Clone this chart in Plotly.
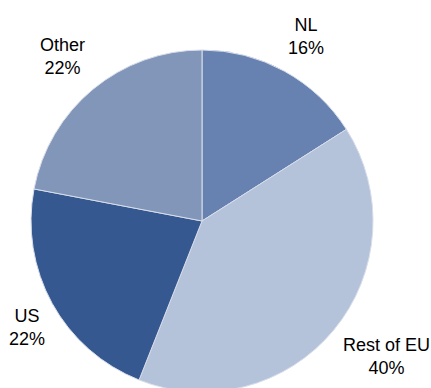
import plotly.graph_objects as go

# Share of total by region (percent)
regions = ["NL", "Rest of EU", "US", "Other"]
shares = [16, 40, 22, 22]
colors = ["#6782B1", "#B4C2DA", "#34588F", "#8196B9"]

# Label anchor points (paper pixels) for each region's callout
label_px = {
    "NL": (306, 36),
    "Rest of EU": (386, 356),
    "US": (27, 327),
    "Other": (62, 56),
}

W, H = 431, 396
cx, cy, r = 202, 221, 171

fig = go.Figure(
    go.Pie(
        labels=regions,
        values=shares,
        sort=False,
        direction="clockwise",
        rotation=0,
        textinfo="none",
        hoverinfo="label+percent",
        marker=dict(colors=colors, line=dict(color="#D8DEEA", width=1)),
        domain=dict(
            x=[(cx - r) / W, (cx + r) / W],
            y=[1 - (cy + r) / H, 1 - (cy - r) / H],
        ),
        showlegend=False,
    )
)

for name, val in zip(regions, shares):
    px, py = label_px[name]
    fig.add_annotation(
        x=px / W,
        y=1 - py / H,
        xref="paper",
        yref="paper",
        text=f"{name}<br>{val}%",
        showarrow=False,
        xanchor="center",
        yanchor="middle",
        align="center",
        font=dict(family="Liberation Sans, Arial, sans-serif", size=18, color="#000000"),
    )

fig.update_layout(
    width=W,
    height=H,
    margin=dict(l=0, r=0, t=0, b=0),
    paper_bgcolor="#FFFFFF",
    plot_bgcolor="#FFFFFF",
)

fig.write_html(
    "out.html",
    config={"displayModeBar": False},
    post_script="document.documentElement.style.overflow='hidden';document.body.style.overflow='hidden';document.body.style.margin='0';",
)
